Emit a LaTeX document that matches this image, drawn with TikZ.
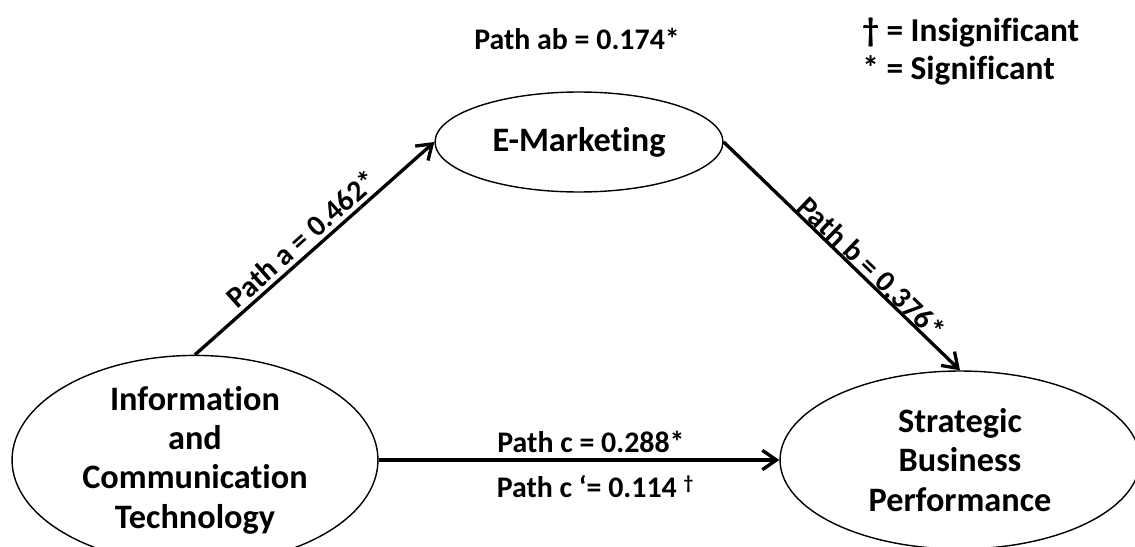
\documentclass[tikz,border=0pt]{standalone}
\usepackage{fontspec}
\setmainfont{Carlito}[Ligatures={NoCommon}]
\usetikzlibrary{shapes.geometric,arrows.meta}
\begin{document}
\begin{tikzpicture}[x=0.02cm,y=-0.02cm,
  var/.style={ellipse,draw,line width=0.8pt,inner sep=0pt,align=center,
    font=\bfseries\fontsize{19.5}{22.4}\selectfont},
  conn/.style={line width=1.9pt,-{Straight Barb[length=8pt,width=11pt,line width=1.9pt]}},
  lab/.style={font=\bfseries\fontsize{17}{20}\selectfont,inner sep=2pt},
  leg/.style={font=\bfseries\fontsize{19}{22}\selectfont,anchor=base west,inner sep=0pt}]
\useasboundingbox (0,0) rectangle (1135,547);
\node[var,minimum width=7.32cm,minimum height=3.6cm] (ICT) at (195,460)
  {Information\\and\\Communication\\Technology};
\node[var,minimum width=7.2cm,minimum height=3.56cm] (SBP) at (960,460)
  {Strategic\\Business\\Performance};
\node[var,minimum width=5.76cm,minimum height=2cm] (EM) at (579,142)
  {E-Marketing};
\draw[conn] (ICT.north) -- node[lab,sloped,above,pos=0.49,inner sep=2pt] (la) {Path a = 0.462*} (EM.west);
\draw[conn] (EM.east) -- node[lab,sloped,above,pos=0.59,inner sep=0pt] (lb) {Path b = 0.376*} (SBP.north);
\draw[conn] (ICT.east) -- (SBP.west);
\node[lab,anchor=base] (lc) at (591,452) {Path c = 0.288*};
\node[lab,anchor=base] (lc2) at (595,497) {Path c ‘= 0.114 \raisebox{0.55ex}{\fontsize{11}{12}\selectfont †}};
\node[lab,anchor=base] (lab) at (577,50) {Path ab = 0.174*};
\node[leg] (l1) at (862,42) {† = Insignificant};
\node[leg] (l2) at (862,80) {* = Significant};
\end{tikzpicture}
\end{document}
